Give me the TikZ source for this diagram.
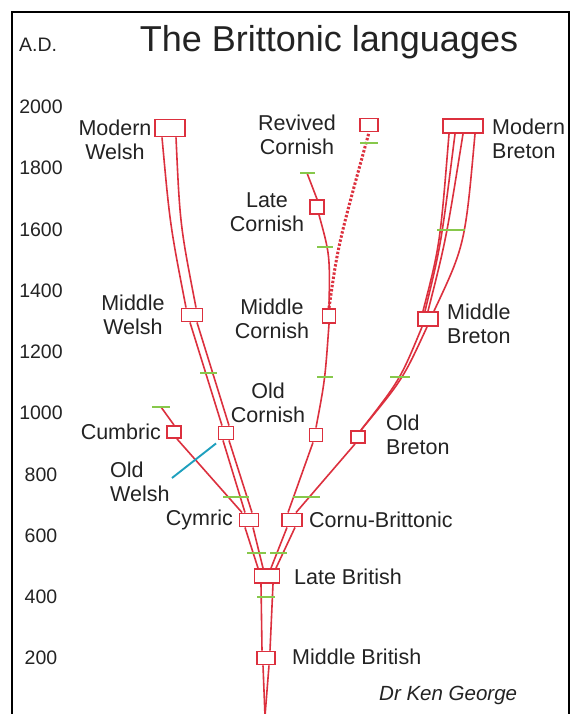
\documentclass[tikz,border=0pt]{standalone}
\usepackage{fontspec}
\setmainfont{Liberation Sans}
\definecolor{brred}{RGB}{220,48,62}
\definecolor{tickg}{RGB}{135,200,75}
\definecolor{ptrc}{RGB}{30,160,190}
\definecolor{txt}{RGB}{35,35,35}
\begin{document}
\begin{tikzpicture}[x=1pt,y=-1pt,
  lang/.style={draw=brred,fill=white,line width=1.9pt,inner sep=0pt,minimum width=14pt,minimum height=12pt},
  br/.style={draw=brred,line width=1.6pt},
  dotln/.style={draw=brred,line width=3pt,dash pattern=on 2.4pt off 1.8pt},
  tk/.style={draw=tickg,line width=1.9pt},
  ptr/.style={draw=ptrc,line width=1.9pt},
  lbl/.style={font=\fontsize{21.5}{24}\selectfont,inner sep=0pt,text=txt},
  yr/.style={font=\fontsize{19.5}{22}\selectfont,inner sep=0pt,text=txt},
  frame/.style={draw=black,line width=1.5pt}]
\useasboundingbox[fill=white] (0,0) rectangle (576,714);
% frame
\draw[frame] (12,716) -- (12,12) -- (569,12) -- (569,716);
% title and axis
\node[font=\fontsize{36}{40}\selectfont,inner sep=0pt,text=txt,anchor=base] (title) at (329,52) {The Brittonic languages};
\node[yr,anchor=base west] (ad) at (19,52) {A.D.};
\node[yr] (y2000) at (41,107) {2000};
\node[yr] (y1800) at (41,168) {1800};
\node[yr] (y1600) at (41,230) {1600};
\node[yr] (y1400) at (41,291) {1400};
\node[yr] (y1200) at (41,352) {1200};
\node[yr] (y1000) at (41,413) {1000};
\node[yr] (y800) at (41,475) {800};
\node[yr] (y600) at (41,536) {600};
\node[yr] (y400) at (41,597) {400};
\node[yr] (y200) at (41,658) {200};
% language boxes
\node[lang,minimum width=18pt,minimum height=13pt] (mbrit) at (266,658) {};
\node[lang,minimum width=25pt,minimum height=14pt] (lbrit) at (267,576) {};
\node[lang,minimum width=19pt,minimum height=13pt] (cym) at (249,520) {};
\node[lang,minimum width=20pt,minimum height=13pt] (cbr) at (292,520) {};
\node[lang] (cum) at (174,432) {};
\node[lang,minimum width=15pt,minimum height=13pt] (ow) at (226,433) {};
\node[lang,minimum width=13pt,minimum height=13pt] (oc) at (316,435) {};
\node[lang] (ob) at (358,437) {};
\node[lang,minimum width=21pt,minimum height=13pt] (mw) at (192,315) {};
\node[lang,minimum width=13pt,minimum height=14pt] (mc) at (329,316) {};
\node[lang,minimum width=20pt,minimum height=14pt] (mbre) at (428,319) {};
\node[lang,minimum width=14pt,minimum height=14pt] (lc) at (317,207) {};
\node[lang,minimum width=18pt,minimum height=13pt] (rc) at (369,125) {};
\node[lang,minimum width=30pt,minimum height=17pt] (mow) at (170,128) {};
\node[lang,minimum width=40pt,minimum height=14pt] (mob) at (463,126) {};
% free ends
\coordinate (root) at (265,716);
\coordinate (cumend) at (161,407);
\coordinate (lcend) at (307,173);
\coordinate (owp) at (172,478);
% trunk
\draw[br] (root) -- ([xshift=-3pt]mbrit.south);
\draw[br] (root) -- ([xshift=3pt]mbrit.south);
\draw[br] ([xshift=-4pt]mbrit.north) -- ([xshift=-6pt]lbrit.south);
\draw[br] ([xshift=4pt]mbrit.north) -- ([xshift=6pt]lbrit.south);
\draw[br] ([xshift=-9pt]lbrit.north) -- ([xshift=-4pt]cym.south);
\draw[br] ([xshift=-4pt]lbrit.north) -- ([xshift=4pt]cym.south);
\draw[br] ([xshift=4pt]lbrit.north) -- ([xshift=-5pt]cbr.south);
\draw[br] ([xshift=9pt]lbrit.north) -- ([xshift=3pt]cbr.south);
% Welsh side
\draw[br] ([xshift=-7pt]cym.north) -- ([xshift=3pt]cum.south);
\draw[br] (cum.north) -- (cumend);
\draw[br] ([xshift=-4pt]cym.north) -- ([xshift=-3pt]ow.south);
\draw[br] ([xshift=3pt]cym.north) -- ([xshift=3pt]ow.south);
\draw[br] ([xshift=-4pt]ow.north) -- ([xshift=-2pt]mw.south);
\draw[br] ([xshift=3pt]ow.north) -- ([xshift=5pt]mw.south);
\draw[br] ([xshift=-6pt]mw.north) .. controls (170,225) .. ([xshift=-8pt]mow.south);
\draw[br] ([xshift=4pt]mw.north) .. controls (180,225) .. ([xshift=6pt]mow.south);
% Cornish
\draw[br] ([xshift=-4pt]cbr.north) -- ([xshift=-3pt]oc.south);
\draw[br] (oc.north) .. controls (325,380) .. (mc.south);
\draw[br] (mc.north) .. controls (330,255) .. ([xshift=2pt]lc.south);
\draw[br] (lc.north) -- (lcend);
\draw[dotln] (mc.north) .. controls (338,245) .. (rc.south);
% Breton
\draw[br] ([xshift=4pt]cbr.north) -- ([xshift=-3pt]ob.south);
\draw[br] ([xshift=3pt]ob.north) .. controls (400,380) .. ([xshift=-6pt]mbre.south);
\draw[br] ([xshift=3pt]ob.north) .. controls (403,379) .. ([xshift=-1pt]mbre.south);
\draw[br] ([xshift=-5pt]mbre.north) .. controls (440,245) .. ([xshift=-14pt]mob.south);
\draw[br] ([xshift=-3pt]mbre.north) .. controls (441,245) .. ([xshift=-8pt]mob.south);
\draw[br] (mbre.north) .. controls (446,240) .. (mob.south);
\draw[br] ([xshift=6pt]mbre.north) .. controls (465,245) .. ([xshift=12pt]mob.south);
% period ticks
\draw[tk] (257,597) -- (275,597);
\draw[tk] (247,553) -- (266,553);
\draw[tk] (270,553) -- (287,553);
\draw[tk] (223,497) -- (249,497);
\draw[tk] (293,497) -- (320,497);
\draw[tk] (152,407) -- (170,407);
\draw[tk] (200,373) -- (217,373);
\draw[tk] (317,377) -- (333,377);
\draw[tk] (390,377) -- (410,377);
\draw[tk] (317,247) -- (333,247);
\draw[tk] (300,173) -- (315,173);
\draw[tk] (360,143) -- (378,143);
\draw[tk] (437,230) -- (465,230);
% labels
\node[lbl,align=center] (lmow) at (115,139.5) {Modern\\Welsh};
\node[lbl,align=center] (lrc) at (297,134.5) {Revived\\Cornish};
\node[lbl,anchor=west,align=left] (lmob) at (492,138.5) {Modern\\Breton};
\node[lbl,align=center] (llc) at (267,212.5) {Late\\Cornish};
\node[lbl,align=center] (lmw) at (133,315) {Middle\\Welsh};
\node[lbl,align=center] (lmc) at (272,319) {Middle\\Cornish};
\node[lbl,anchor=west,align=left] (lmbre) at (447,323.5) {Middle\\Breton};
\node[lbl,align=center] (loc) at (268,402.5) {Old\\Cornish};
\node[lbl,anchor=west,align=left] (lob) at (386,434.5) {Old\\Breton};
\node[lbl,anchor=east] (lcum) at (161,432) {Cumbric};
\node[lbl,anchor=west,align=left] (low) at (110,481.5) {Old\\Welsh};
\node[lbl,anchor=east] (lcym) at (233,520) {Cymric};
\node[lbl,anchor=west] (lcbr) at (309,520) {Cornu-Brittonic};
\node[lbl,anchor=west] (llb) at (294,577) {Late British};
\node[lbl,anchor=west] (lmb) at (292,657) {Middle British};
\node[font=\fontsize{20.5}{24}\selectfont\itshape,inner sep=0pt,text=txt,anchor=west] (auth) at (379,695) {Dr Ken George};
% Old Welsh pointer
\draw[ptr] (owp) -- ([xshift=-1.5pt,yshift=-3pt]ow.south west);
\end{tikzpicture}
\end{document}
